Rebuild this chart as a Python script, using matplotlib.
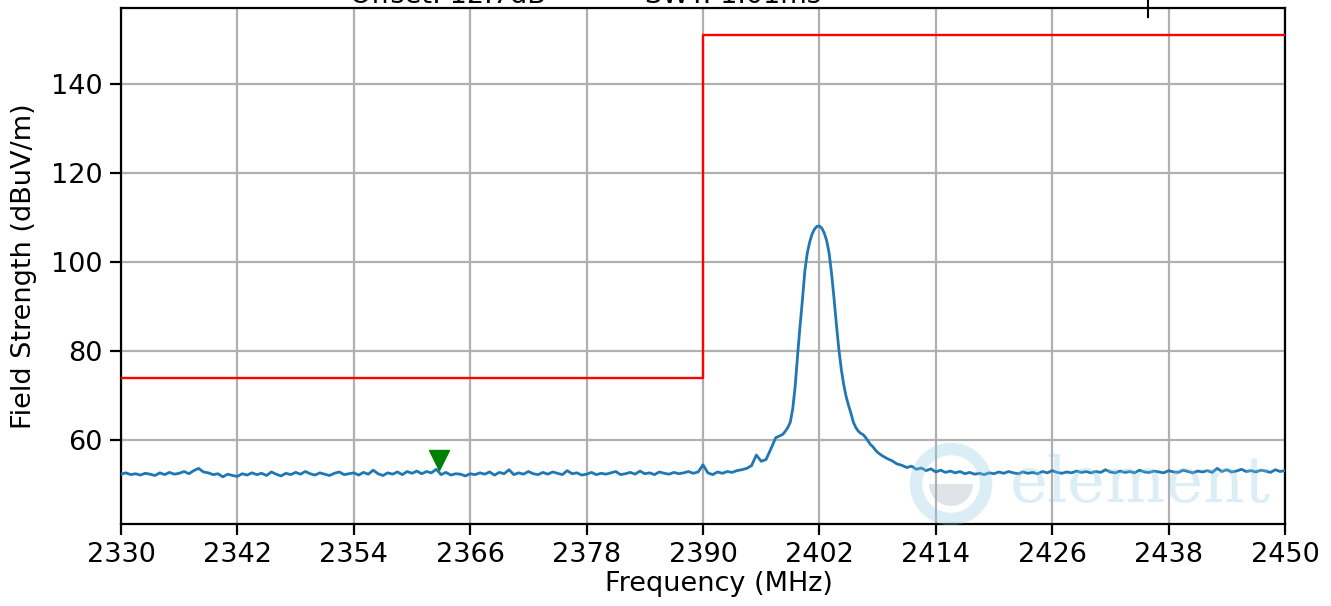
import numpy as np
import matplotlib
matplotlib.use("Agg")
import matplotlib.pyplot as plt
from matplotlib.patches import Circle, Wedge
from matplotlib.lines import Line2D

# ---------------- data ----------------
x_ticks = [2330, 2342, 2354, 2366, 2378, 2390, 2402, 2414, 2426, 2438, 2450]
y_ticks = [60, 80, 100, 120, 140]

limit_freq = [2330, 2390, 2390, 2450]
limit_level = [74, 74, 151, 151]

marker_freq = [2362.8]
marker_level = [55.4]

# trace, left floor: 2330.0 .. 2397.5 MHz, 0.5 MHz step
left_start, left_step = 2330.0, 0.5
left_level = [
    52.3, 52.6, 52.2, 52.4, 52.1, 52.5, 52.3, 52.0, 52.6, 52.2, 52.7, 52.3,
    52.5, 52.9, 52.4, 53.1, 53.6, 52.8, 52.6, 52.2, 52.4, 51.7, 52.3, 52.0,
    51.8, 52.4, 52.1, 52.6, 52.2, 52.5, 52.0, 52.8, 52.3, 51.9, 52.5, 52.2,
    52.7, 52.3, 52.9, 52.4, 52.1, 52.6, 52.3, 52.0, 52.5, 52.8, 52.2, 52.4,
    52.6, 52.1, 52.7, 52.3, 53.2, 52.4, 52.0, 52.6, 52.3, 52.8, 52.2, 52.9,
    52.5, 53.0, 52.4, 52.9, 52.6, 53.4, 52.2, 52.7, 52.1, 52.4, 52.3, 51.9,
    52.4, 52.2, 52.6, 52.3, 52.8, 52.1, 52.7, 52.4, 53.3, 52.2, 52.6, 52.3,
    52.9, 52.4, 52.2, 52.7, 52.3, 52.8, 52.5, 52.2, 53.1, 52.4, 52.6, 52.1,
    52.3, 52.7, 52.2, 52.5, 52.3, 52.6, 52.9, 52.2, 52.4, 52.7, 52.3, 53.0,
    52.4, 52.6, 52.2, 52.8, 52.5, 52.3, 52.7, 52.4, 52.6, 52.9, 52.5, 52.8,
    54.4, 52.6, 52.2, 52.8, 52.5, 52.9, 52.7, 53.1, 53.3, 53.6, 54.2, 56.6,
    55.2, 55.6, 58.0, 60.5,
]

# trace, carrier: explicit points
peak_freq = [
    2398.00, 2398.25, 2398.50, 2398.75, 2399.00, 2399.25, 2399.50, 2399.75,
    2400.00, 2400.25, 2400.50, 2400.75, 2401.00, 2401.25, 2401.50, 2401.75,
    2402.00, 2402.25, 2402.50, 2402.75, 2403.00, 2403.25, 2403.50, 2403.75,
    2404.00, 2404.25, 2404.50, 2404.75, 2405.00, 2405.25, 2405.50, 2405.75,
    2406.00, 2406.25, 2406.50, 2406.75, 2407.00, 2407.25, 2407.50, 2407.75,
    2408.00,
]
peak_level = [
    61.0, 61.3, 62.0, 62.8, 64.0, 67.0, 72.0, 79.0,
    85.5, 91.5, 98.0, 102.0, 104.5, 106.3, 107.4, 108.0,
    108.1, 107.6, 106.5, 104.8, 102.0, 97.5, 92.0, 86.0,
    80.5, 76.0, 72.5, 69.8, 67.8, 66.0, 64.0, 62.8,
    62.0, 61.5, 61.2, 60.6, 59.8, 59.0, 58.5, 57.8,
    57.2,
]

# trace, right floor: 2408.5 .. 2450.0 MHz, 0.5 MHz step
right_start, right_step = 2408.5, 0.5
right_level = [
    56.4, 55.8, 55.3, 54.6, 54.3, 53.8, 54.1,
    53.4, 53.7, 53.1, 53.5, 52.8, 53.2, 52.7, 53.0, 52.6, 52.9, 52.4, 52.7,
    52.3, 52.5, 52.2, 52.6, 52.4, 52.8, 52.5, 52.9, 52.6, 52.4, 52.8, 52.5,
    52.7, 52.4, 52.9, 52.6, 53.1, 52.7, 52.5, 52.8, 52.6, 53.0, 52.7, 52.9,
    52.6, 52.9, 52.7, 53.3, 52.8, 52.6, 53.0, 52.7, 52.9, 52.6, 53.2, 52.8,
    52.7, 53.0, 52.8, 52.6, 53.1, 52.8, 52.7, 53.2, 52.9, 52.6, 53.0, 52.8,
    53.1, 52.7, 53.6, 52.9, 53.3, 52.8, 53.0, 53.4, 52.9, 53.1, 52.8, 53.2,
    53.0, 52.7, 53.3, 52.9, 53.1,
]

# ---------------- assemble trace ----------------
left_freq = left_start + left_step * np.arange(len(left_level))
right_freq = right_start + right_step * np.arange(len(right_level))
freq = np.concatenate([left_freq, peak_freq, right_freq])
level = np.concatenate([left_level, peak_level, right_level])

# ---------------- figure ----------------
W, H = 1331, 606
fig = plt.figure(figsize=(W / 100, H / 100), dpi=100)
ax = fig.add_axes([121 / W, (H - 524) / H, (1285 - 121) / W, (524 - 8) / H])

ax.plot(limit_freq, limit_level, color="red", lw=1.7, zorder=3)
ax.plot(freq, level, color="#1f77b4", lw=2.0, zorder=4)
ax.plot(marker_freq, marker_level, marker="v", color="green", ms=15,
        ls="none", zorder=5)

ax.set_xlim(2330, 2450)
ax.set_ylim(41.1, 157.1)
ax.set_xticks(x_ticks)
ax.set_yticks(y_ticks)
ax.grid(True, color="#b0b0b0", lw=1.6)
ax.set_axisbelow(True)
for s in ax.spines.values():
    s.set_linewidth(1.6)
ax.tick_params(labelsize=19.5, width=1.6, length=8, pad=5)
ax.set_xlabel("Frequency (MHz)", fontsize=19.5, labelpad=2)
ax.xaxis.label.set_x(0.5 + 16 / 1164)
ax.set_ylabel("Field Strength (dBuV/m)", fontsize=19.5, labelpad=10)

# header text, mostly cut off at the top of the image
fig.text(350 / W, 1 - 3 / H, "Offset: 12.7dB", fontsize=19.5, va="baseline")
fig.text(645 / W, 1 - 3 / H, "SWT: 1.01ms", fontsize=19.5, va="baseline")
fig.add_artist(Line2D([1148 / W, 1148 / W], [1 - 17 / H, 1.0],
                      transform=fig.transFigure, color="black", lw=1.5))

# watermark
cx, cy = 951, 484
wm_ax = fig.add_axes([0, 0, 1, 1], zorder=10)
wm_ax.set_xlim(0, W)
wm_ax.set_ylim(H, 0)
wm_ax.axis("off")
wm_ax.set_aspect("equal")
wm_ax.add_patch(Circle((cx, cy), 35, fill=False, lw=9, ec="#8cc8e0", alpha=0.3))
wm_ax.add_patch(Wedge((cx, cy), 22, 0, 180, fc="#9aa6b8", alpha=0.3))
wm_ax.text(1010, 484, "element", fontsize=46, color="#8cc8e0", alpha=0.3,
           va="center", ha="left", family="DejaVu Serif")

fig.savefig("out.png", dpi=100)
